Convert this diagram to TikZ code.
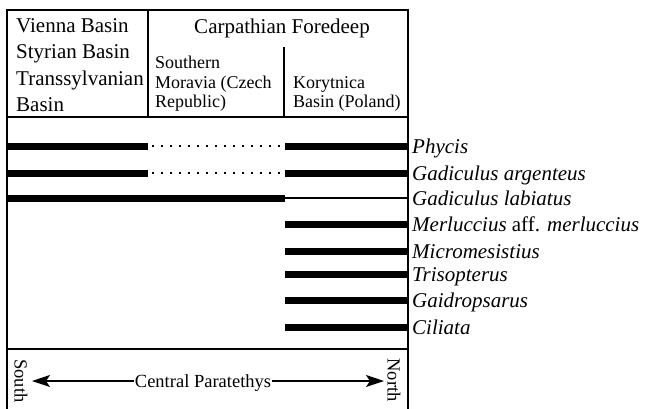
\documentclass[tikz,border=0pt]{standalone}
\usepackage{fontspec}
\setmainfont{Liberation Serif}
\usetikzlibrary{arrows.meta}
\begin{document}
\begin{tikzpicture}[x=1pt,y=-1pt,
  frame/.style={line width=1.4pt, line cap=rect},
  fishbar/.style={line width=7pt},
  thinbar/.style={line width=1.6pt},
  gapbar/.style={line width=2pt, dash pattern=on 2pt off 7pt},
  bigtext/.style={inner sep=0pt, text=black, font=\fontsize{21}{25}\selectfont},
  smalltext/.style={inner sep=0pt, text=black, font=\fontsize{18}{20}\selectfont},
  taxon/.style={inner sep=0pt, anchor=base west, text=black, font=\fontsize{21}{25}\selectfont\itshape},
  compass/.style={inner sep=0pt, text=black, rotate=-90, font=\fontsize{18.5}{20}\selectfont},
  bigarrow/.style={line width=1.4pt, -{Stealth[length=18pt,width=12pt,inset=4pt]}}]

\useasboundingbox (0,0) rectangle (645,408);

% table frame
\draw[frame] (7,408) -- (7,10) -- (408,10) -- (408,408);
\draw[frame] (7,117) -- (408,117);
\draw[frame] (7,349) -- (408,349);
\draw[frame] (148,10) -- (148,117);
\draw[frame] (284,48) -- (284,117);

% column headings
\node[bigtext, anchor=base west] (vb) at (16,32) {Vienna Basin};
\node[bigtext, anchor=base west] (sb) at (16,58) {Styrian Basin};
\node[bigtext, anchor=base west] (tb1) at (16,85) {Transsylvanian};
\node[bigtext, anchor=base west] (tb2) at (16,111) {Basin};
\node[bigtext, anchor=base] (cf) at (282,33) {Carpathian Foredeep};
\node[smalltext, anchor=base west] (sm1) at (155,68) {Southern};
\node[smalltext, anchor=base west] (sm2) at (155,88) {Moravia (Czech};
\node[smalltext, anchor=base west] (sm3) at (155,107) {Republic)};
\node[smalltext, anchor=base west] (kb1) at (293,88) {Korytnica};
\node[smalltext, anchor=base west] (kb2) at (293,107) {Basin (Poland)};

% stratigraphic ranges
\draw[fishbar] (7,146) -- (148,146);
\draw[gapbar] (152,146) -- (284,146);
\draw[fishbar] (285,146) -- (408,146);

\draw[fishbar] (7,173) -- (148,173);
\draw[gapbar] (152,173) -- (284,173);
\draw[fishbar] (285,173) -- (408,173);

\draw[fishbar] (7,198) -- (285,198);
\draw[thinbar] (285,198) -- (408,198);

\draw[fishbar] (285,224) -- (408,224);
\draw[fishbar] (285,251) -- (408,251);
\draw[fishbar] (285,274) -- (408,274);
\draw[fishbar] (285,300) -- (408,300);
\draw[fishbar] (285,327) -- (408,327);

% taxa
\node[taxon] (t1) at (412,153) {Phycis};
\node[taxon] (t2) at (412,180) {Gadiculus argenteus};
\node[taxon] (t3) at (412,205) {Gadiculus labiatus};
\node[taxon] (t4) at (412,231) {Merluccius \textup{aff.} merluccius};
\node[taxon] (t5) at (412,258) {Micromesistius};
\node[taxon] (t6) at (412,281) {Trisopterus};
\node[taxon] (t7) at (412,307) {Gaidropsarus};
\node[taxon] (t8) at (412,334) {Ciliata};

% south--north axis
\node[compass] (south) at (21,381) {South};
\node[compass] (north) at (394,380) {North};
\node[inner sep=1pt, anchor=base, text=black, font=\fontsize{18.5}{20}\selectfont] (cp) at (203,387) {Central Paratethys};
\coordinate (stip) at (32,381);
\coordinate (ntip) at (384,381);
\draw[bigarrow] (cp.west |- stip) -- (stip);
\draw[bigarrow] (cp.east |- ntip) -- (ntip);
\end{tikzpicture}
\end{document}
